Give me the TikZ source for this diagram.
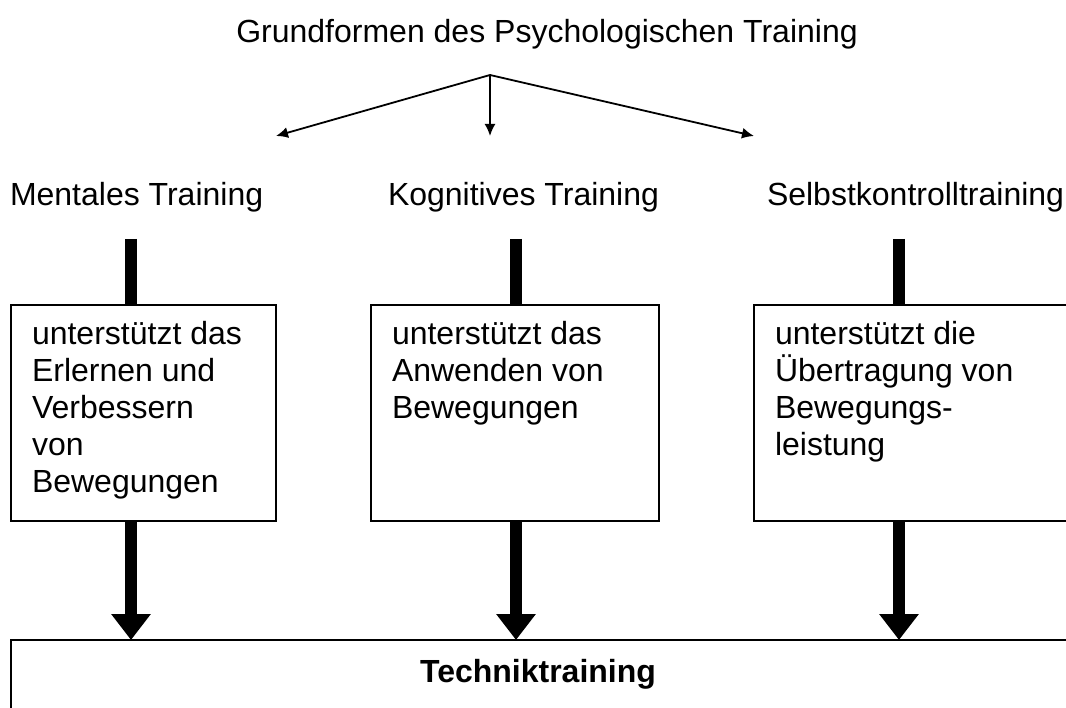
\documentclass[tikz,border=0pt]{standalone}
\usepackage{fontspec}
\setmainfont{Liberation Sans}
\usetikzlibrary{arrows.meta}
\begin{document}
\begin{tikzpicture}[x=1pt,y=-1pt,
  txt/.style={font=\fontsize{32}{36.8}\selectfont, inner sep=0pt, outer sep=0pt},
  branch/.style={line width=1.8pt, -{Latex[length=12pt,width=11pt]}},
  stepbox/.style={draw, line width=1.5pt, outer sep=0pt, inner ysep=0pt, inner xsep=21pt,
    anchor=north west, text height=40pt, text depth=176pt,
    font=\fontsize{32}{36.8}\selectfont},
  bar/.style={line width=12pt},
  bigarrow/.style={line width=12pt, -{Triangle[length=26pt,width=38pt]}},
]
\useasboundingbox (0,0) rectangle (1066,708);
\clip (0,0) rectangle (1066,708);

% title and branches
\node[txt, anchor=base] (title) at (547,43) {Grundformen des Psychologischen Training};
\coordinate (apex) at (490,75);
\coordinate (tipL) at (276,136);
\coordinate (tipM) at (490,136);
\coordinate (tipR) at (754,136);
\draw[branch] (apex) -- (tipL);
\draw[branch] (apex) -- (tipM);
\draw[branch] (apex) -- (tipR);

% labels
\node[txt, anchor=base west] (ment) at (10,206) {Mentales Training};
\node[txt, anchor=base west] (kogn) at (388,206) {Kognitives Training};
\node[txt, anchor=base west] (selb) at (767,206) {Selbstkontrolltraining};

% column coordinates
\coordinate (c1) at (131,239);
\coordinate (c2) at (516,239);
\coordinate (c3) at (899,239);

% boxes
\node[stepbox, minimum width=265pt] (b1) at (11,305)
  {\parbox[t]{223pt}{\raggedright unterstützt das\\Erlernen und\\Verbessern\\von\\Bewegungen}};
\node[stepbox, minimum width=288pt] (b2) at (371,305)
  {\parbox[t]{246pt}{\raggedright unterstützt das\\Anwenden von\\Bewegungen}};
\node[stepbox, minimum width=340pt] (b3) at (754,305)
  {\parbox[t]{298pt}{\raggedright unterstützt die\\Übertragung von\\Bewegungs-\\leistung}};

% bottom box (its right edge lies outside the picture)
\node[draw, line width=1.5pt, outer sep=0pt, inner ysep=0pt, anchor=north west,
  minimum width=1120pt, text height=42pt, text depth=40pt,
  font=\fontsize{32}{36.8}\selectfont\bfseries] (tech) at (11,640) {Techniktraining\kern66pt\null};

% bars into boxes
\draw[bar] (c1) -- (c1 |- b1.north);
\draw[bar] (c2) -- (c2 |- b2.north);
\draw[bar] (c3) -- (c3 |- b3.north);

% thick arrows to bottom box
\draw[bigarrow] (c1 |- b1.south) -- (c1 |- tech.north);
\draw[bigarrow] (c2 |- b2.south) -- (c2 |- tech.north);
\draw[bigarrow] (c3 |- b3.south) -- (c3 |- tech.north);
\end{tikzpicture}
\end{document}
